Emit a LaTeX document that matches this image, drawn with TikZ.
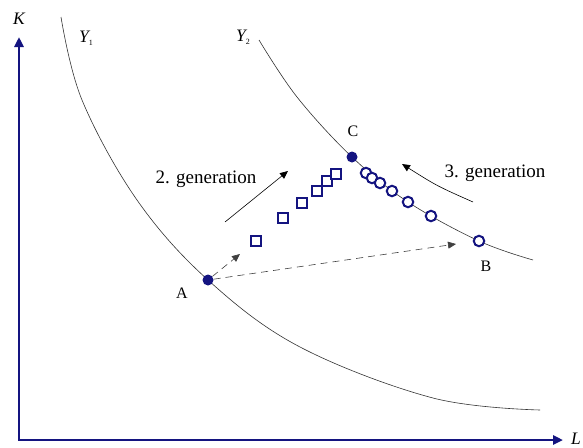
\documentclass[tikz,border=0pt]{standalone}
\usepackage{fontspec}
\setmainfont{Liberation Serif}
\usetikzlibrary{arrows.meta}
\definecolor{navyc}{RGB}{20,20,128}
\begin{document}
\begin{tikzpicture}[x=1pt,y=-1pt,
  curve/.style={line width=0.6pt, black!80},
  axisline/.style={line width=2.5pt, navyc},
  dot/.style={circle, fill=navyc, inner sep=0pt, minimum size=11pt},
  ring/.style={circle, draw=navyc, line width=2pt, fill=white, inner sep=0pt, minimum size=10.5pt},
  sq/.style={rectangle, draw=navyc, line width=2pt, fill=white, inner sep=0pt, minimum size=10pt},
  lbl/.style={font=\fontsize{16}{18}\selectfont, inner sep=0pt},
  gen/.style={font=\fontsize{19}{22}\selectfont, inner sep=0pt},
  axlbl/.style={font=\fontsize{17.5}{20}\selectfont\itshape, inner sep=0pt},
  thinarrow/.style={line width=0.6pt, -{Triangle[length=8pt,width=7pt]}},
  dasharrow/.style={thinarrow, dash pattern=on 7pt off 5pt, black!75}]
\useasboundingbox (0,0) rectangle (583,447);

% axes
\coordinate (O) at (19,440);
\coordinate (ytip) at (19,37);
\coordinate (xtip) at (563,440);
\draw[axisline, {Triangle[length=10pt,width=9pt]}-{Triangle[length=10pt,width=9pt]}] (ytip) -- (O) -- (xtip);
\node[axlbl] (K) at (19,19) {K};
\node[axlbl, anchor=east] (L) at (581,439) {L};

% isoquants
\draw[curve] plot[smooth, tension=0.6] coordinates {(61,17) (82,100) (137,200) (208,280) (300,347) (433,398) (540,410)};
\draw[curve] plot[smooth, tension=0.6] coordinates {(259,40) (297,97) (352,157) (408,202) (479,241) (533,260)};
\node[axlbl, anchor=west] (Y1) at (79,38) {Y\raisebox{-3pt}{\upshape\fontsize{8}{8}\selectfont 1}};
\node[axlbl, anchor=west] (Y2) at (236,37) {Y\raisebox{-3pt}{\upshape\fontsize{8}{8}\selectfont 2}};

% squares (2. generation)
\node[sq] (s1) at (256,241) {};
\node[sq] (s2) at (283,218) {};
\node[sq] (s3) at (302,203) {};
\node[sq] (s4) at (317,191) {};
\node[sq] (s5) at (327,181) {};
\node[sq] (s6) at (336,174) {};

% circles (3. generation)
\node[ring] (c1) at (366,173) {};
\node[ring] (c2) at (372,178) {};
\node[ring] (c3) at (380,183) {};
\node[ring] (c4) at (392,191) {};
\node[ring] (c5) at (408,202) {};
\node[ring] (c6) at (431,216) {};
\node[ring] (B) at (479,241) {};

% points A and C
\node[dot] (A) at (208,280) {};
\node[dot] (C) at (352,157) {};
\node[lbl] (Alab) at (182,293) {A};
\node[lbl] (Blab) at (486,266) {B};
\node[lbl] (Clab) at (353,131) {C};

% dashed arrows
\coordinate (d1) at (240,254);
\coordinate (d2) at (456,244);
\draw[dasharrow] (A) -- (d1);
\draw[dasharrow] (A) -- (d2);

% generation arrows
\coordinate (g2s) at (225,222);
\coordinate (g2e) at (288,171);
\draw[thinarrow] (g2s) -- (g2e);
\node[gen] (gen2) at (206,179) {2. generation};

\coordinate (g3s) at (473,202);
\coordinate (g3e) at (402,164);
\draw[thinarrow] (g3s) .. controls (437,186) .. (g3e);
\node[gen] (gen3) at (495,173) {3. generation};
\end{tikzpicture}
\end{document}
